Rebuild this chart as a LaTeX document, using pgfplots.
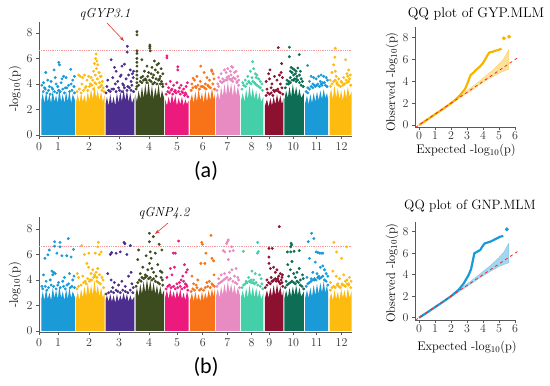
\documentclass[border=0pt]{standalone}
\usepackage{pgfplots}
\pgfplotsset{compat=1.18}
\usepackage{fontspec}
\newfontfamily\carlito{Carlito}
\usetikzlibrary{arrows.meta}
\definecolor{c1}{HTML}{1A9AD7}
\definecolor{c2}{HTML}{FDBB10}
\definecolor{c3}{HTML}{4B2E8E}
\definecolor{c4}{HTML}{3D4C1F}
\definecolor{c5}{HTML}{EC1A7D}
\definecolor{c6}{HTML}{F87318}
\definecolor{c7}{HTML}{E88BC2}
\definecolor{c8}{HTML}{45CFA8}
\definecolor{c9}{HTML}{8C1131}
\definecolor{c10}{HTML}{0D6E55}
\definecolor{qa}{HTML}{F6B500}
\definecolor{qb}{HTML}{1A9AD7}
\definecolor{arr}{HTML}{E8352E}
\definecolor{thrc}{HTML}{F59A9A}
\pgfplotsset{
  mh/.style={scale only axis, width=313pt, xmin=-2.5, xmax=373, ymin=-0.08,
    axis lines*=left, tick align=outside, major tick length=3pt,
    axis line style={draw=black!65, line width=0.6pt},
    tick style={draw=black!65, line width=0.6pt},
    xtick={-2.5,20.4,57.6,93.5,129.5,163,193.9,223.4,252.6,273.7,302.5,330.6,360.5},
    xticklabels={0,1,2,3,4,5,6,7,8,9,10,11,12},
    ytick={0,2,4,6,8},
    tick label style={font=\fontsize{12}{14}\selectfont, text=black!80}},
  qq/.style={scale only axis, width=100pt, xmin=-0.25, xmax=6,
    axis lines*=left, tick align=outside, major tick length=3pt,
    axis line style={draw=black!65, line width=0.6pt},
    tick style={draw=black!65, line width=0.6pt},
    xtick={0,1,2,3,4,5,6}, ytick={0,2,4,6,8}, clip=false,
    tick label style={font=\fontsize{12}{14}\selectfont, text=black!80},
    xticklabel style={yshift=2pt}},
  sc/.style={only marks, mark=*, mark size=1.25pt, color=#1, mark options={draw=none, fill=#1}},
  ar/.style={fill=#1, draw=none},
  thr/.style={color=thrc, line width=0.8pt, dash pattern=on 1pt off 0.8pt},
}
\begin{document}
\begin{tikzpicture}[x=1pt,y=1pt]
\path[use as bounding box] (0pt,0pt) rectangle (550pt,386pt);
% ---------------- Manhattan (a) ----------------
\begin{axis}[mh, at={(39pt,250pt)}, anchor=south west, height=114pt, ymax=8.86]
\addplot[thr] coordinates {(-2.5,6.6)(373,6.6)};
\addplot[ar=c1] coordinates {(0.3,0)(0.3,2.7)(2,3.3)(4,2.5)(6,3.4)(8,2.6)(10,3.2)(12,2.5)(14,3.5)(16,2.6)(18,3.1)(20,2.5)(22,3.6)(24,2.6)(26,3.2)(28,2.5)(30,3.4)(32,2.6)(34,3.5)(36,2.5)(38,3.2)(40.8,2.7)(40.8,0)};
\addplot[sc=c1] coordinates {(21.2,5.7)(22,5.5)(5.6,4.9)(35.6,5.15)(15.6,5.1)(27,4.6)(8,4.3)(1,3.9)(12,4.2)(18,4.0)(25,4.4)(30,4.5)(38,4.3)(33,3.9)(4,3.7)(10,3.8)(14,3.6)(20,3.8)(24,4.1)(29,3.7)(36,4.0)(39.5,3.8)(40,4.6)(3,4.1)(17,4.5)};
\addplot[sc=c1] coordinates {(2.5,3.4)(5,3.6)(7,3.3)(9,3.5)(11,3.2)(13,3.7)(16,3.4)(19,3.3)(21,3.5)(23,3.4)(26,3.6)(28,3.3)(31,3.7)(34,3.4)(37,3.5)(40,3.3)};
\addplot[ar=c2] coordinates {(42,0)(42,2.6)(44,3.2)(46,2.5)(48,3.3)(50,2.6)(52,3.1)(54,2.5)(56,3.4)(58,2.7)(60,3.6)(62,2.8)(64,3.9)(66,2.9)(68,3.5)(70,2.7)(72,3.4)(74,2.6)(76.1,3.1)(76.1,0)};
\addplot[sc=c2] coordinates {(66,6.35)(65.5,6.0)(67,5.8)(64,5.6)(68,5.5)(66.5,5.2)(63,5.0)(69.5,4.9)(65,4.7)(71,4.6)(60,4.5)(62,4.3)(72,4.6)(73.5,4.2)(45,4.7)(47,4.6)(50,4.5)(52,4.7)(55,4.3)(57,4.6)(49,4.0)(54,3.8)(59,4.0)(70,4.1)(72.5,3.9)(74.5,3.7)(67.5,4.4)(64.5,4.1)};
\addplot[sc=c2] coordinates {(43,3.4)(46,3.6)(48,3.3)(51,3.5)(53,3.7)(56,3.5)(58,3.8)(61,3.9)(63,3.6)(66,4.0)(69,3.7)(71,3.8)(73,3.5)(75.5,3.4)};
\addplot[ar=c3] coordinates {(77.3,0)(77.3,2.4)(79,3.0)(81,2.3)(83,3.2)(85,2.4)(87,3.0)(89,2.3)(91,3.3)(93,2.5)(95,3.4)(97,2.6)(99,3.6)(101,2.7)(103,3.5)(105,2.6)(107,3.3)(109,2.5)(112,3.0)(112,0)};
\addplot[sc=c3] coordinates {(103.5,6.95)(103.3,6.5)(84,5.9)(97,5.4)(100,5.55)(90,5.0)(88,5.3)(107,5.1)(109.5,4.8)(95,4.6)(80,4.3)(86,4.5)(92,4.2)(98,4.0)(102,4.4)(105,4.7)(108,4.2)(110.5,4.5)(111,5.0)(79,3.8)(85,3.6)(93,3.7)(99,3.9)(104,3.8)(109,3.9)(96,4.7)(89,4.0)};
\addplot[sc=c3] coordinates {(78,3.3)(81,3.5)(83,3.4)(87,3.6)(90,3.4)(94,3.5)(97,3.4)(100,3.7)(103,3.5)(106,3.7)(108,3.5)(111,3.4)};
\addplot[ar=c4] coordinates {(113.3,0)(113.3,3.2)(115,2.6)(117,3.5)(119,2.8)(121,3.8)(123,2.9)(125,4.0)(127,3.0)(129,4.2)(131,2.9)(133,3.9)(135,2.8)(137,3.7)(139,3.0)(141,4.0)(143,2.8)(145,3.5)(147.5,2.9)(147.5,0)};
\addplot[sc=c4] coordinates {(115,8.1)(115,7.85)(115,6.6)(115,6.4)(115,6.0)(115,5.7)(115,5.4)(115,5.0)(115,4.7)(115,4.4)(115,4.1)(115,3.8)(130.5,7.05)(130.5,6.93)(130.5,6.8)(131,6.6)(121,5.9)(136,5.8)(141,5.6)(127,5.4)(133,5.3)(139,5.5)(144,5.2)(146,4.8)(124,5.0)(129,4.9)(135,4.7)(143,4.6)(120,4.5)(126,4.3)(138,4.4)(144.5,4.2)(122,4.6)(132,4.8)(140,4.9)(142,4.4)(145.5,4.0)(134,4.5)(137,5.1)(128,4.6)};
\addplot[sc=c4] coordinates {(114,3.6)(117,3.9)(119,4.2)(121,4.1)(123,4.3)(125,4.4)(127,4.1)(130,4.3)(132,4.2)(134,4.0)(136,4.1)(139,4.0)(141,4.3)(143,4.0)(146,3.8)};
\addplot[ar=c5] coordinates {(148.7,0)(148.7,2.8)(151,2.3)(153,3.0)(155,2.4)(157,3.2)(159,2.5)(161,3.1)(163,2.3)(165,2.9)(167,2.4)(169,3.0)(171,2.3)(173,2.8)(175,2.4)(176.9,2.7)(176.9,0)};
\addplot[sc=c5] coordinates {(151,6.2)(151,6.05)(164,5.35)(164,5.1)(150,4.0)(153,3.7)(155,4.2)(157,3.6)(159,3.9)(163,4.1)(166,3.7)(168,3.9)(171,3.6)(174,3.8)(175.5,4.1)(161,3.5)(169,3.4)(173,3.3)};
\addplot[sc=c5] coordinates {(150,3.2)(152,3.4)(154,3.3)(156,3.5)(158,3.2)(160,3.4)(162,3.3)(165,3.4)(167,3.2)(170,3.3)(172,3.1)(174,3.2)(176,3.0)};
\addplot[ar=c6] coordinates {(178.6,0)(178.6,2.6)(181,3.2)(183,2.5)(185,3.4)(187,2.6)(189,3.6)(191,2.7)(193,3.3)(195,2.5)(197,3.5)(199,2.6)(201,3.4)(203,2.7)(205,3.7)(207,2.8)(208.6,3.2)(208.6,0)};
\addplot[sc=c6] coordinates {(191.5,5.4)(204.6,5.1)(195.5,4.9)(182.4,4.45)(205,5.0)(206.5,4.8)(184,4.3)(187,4.6)(191,4.2)(197,4.0)(199,4.5)(202,4.3)(207.5,4.4)(181,4.0)(194,3.8)(200,3.9)(186,3.7)};
\addplot[sc=c6] coordinates {(180,3.5)(182,3.7)(185,3.8)(188,3.9)(190,3.6)(192,3.8)(196,3.7)(198,3.6)(201,3.8)(203,3.7)(206,4.0)(208,3.6)};
\addplot[ar=c7] coordinates {(209.8,0)(209.8,2.8)(212,3.4)(214,2.7)(216,3.8)(218,3.0)(220,4.0)(222,3.1)(224,4.2)(226,3.2)(228,4.1)(230,3.0)(232,4.0)(234,3.1)(236,3.8)(238.6,3.0)(238.6,0)};
\addplot[sc=c7] coordinates {(228.6,5.36)(220,5.1)(224,5.2)(230,5.3)(234,5.0)(216,4.8)(222,4.9)(228,4.7)(232,4.9)(236,4.6)(213,4.5)(218,4.4)(225,4.6)(231,4.5)(237,4.3)(215,4.2)(223,4.3)(229,4.4)(235,4.2)(212,4.0)(227,5.0)};
\addplot[sc=c7] coordinates {(211,3.5)(213,3.8)(217,4.1)(219,4.2)(221,4.3)(223,4.5)(226,4.4)(228,4.3)(230,4.2)(233,4.4)(235,4.1)(237,3.9)};
\addplot[ar=c8] coordinates {(239.8,0)(239.8,2.7)(242,3.3)(244,2.6)(246,3.6)(248,2.8)(250,3.9)(252,2.9)(254,3.7)(256,2.8)(258,3.5)(260,2.7)(262,3.3)(264,2.6)(266.8,3.0)(266.8,0)};
\addplot[sc=c8] coordinates {(253.8,5.75)(255,5.2)(251,5.0)(257,4.8)(248,4.6)(259,4.7)(245,4.3)(253,4.5)(261,4.4)(242,4.1)(263,4.2)(265,4.0)(249,4.2)(256,4.1)(258,4.5)};
\addplot[sc=c8] coordinates {(241,3.6)(243,3.9)(245,3.8)(247,4.0)(250,4.1)(252,4.0)(254,4.2)(257,4.0)(259,3.9)(261,3.8)(263,3.7)(265.5,3.5)};
\addplot[ar=c9] coordinates {(268.6,0)(268.6,2.3)(271,2.8)(273,2.2)(275,2.9)(277,2.3)(279,3.0)(281,2.4)(283,3.2)(285,2.5)(287,3.1)(289,2.4)(290.8,2.9)(290.8,0)};
\addplot[sc=c9] coordinates {(284.6,6.85)(274.6,5.1)(286,4.7)(288,4.9)(270,4.2)(274,4.4)(277,4.0)(280,4.6)(283,4.3)(287,4.0)(289.5,4.5)(271,3.6)(276,3.7)(279,3.5)(284,3.6)(289,3.7)(273,4.8)(288.6,5.6)};
\addplot[sc=c9] coordinates {(270,3.1)(272,3.3)(274,3.2)(276,3.3)(278,3.1)(280,3.4)(282,3.5)(285,3.4)(287,3.3)(290,3.2)};
\addplot[ar=c10] coordinates {(292,0)(292,2.8)(294,3.5)(296,2.9)(298,3.8)(300,3.0)(302,4.0)(304,3.1)(306,3.8)(308,3.0)(310,3.6)(312,2.9)(315.3,3.3)(315.3,0)};
\addplot[sc=c10] coordinates {(297.8,6.88)(297.8,6.14)(309.7,6.3)(300,5.3)(302,5.2)(304,5.1)(306,5.0)(308,5.25)(301,4.9)(303,4.7)(305,4.8)(307,4.6)(299,4.5)(310,4.7)(312,4.4)(295,4.3)(297,4.0)(313.5,4.2)(303,4.3)(306,4.4)(299,5.0)(311,5.0)};
\addplot[sc=c10] coordinates {(293,3.7)(295,4.0)(297,4.2)(299,4.1)(301,4.3)(304,4.4)(306,4.2)(308,4.3)(310,4.1)(312,3.9)(314.5,3.8)};
\addplot[ar=c1] coordinates {(316.8,0)(316.8,2.5)(319,3.1)(321,2.4)(323,3.2)(325,2.5)(327,3.3)(329,2.6)(331,3.4)(333,2.7)(335,3.5)(337,2.8)(339,3.6)(341,2.9)(343,3.3)(344.5,2.7)(344.5,0)};
\addplot[sc=c1] coordinates {(319.8,5.45)(324,4.6)(327,4.5)(330,4.4)(333,4.6)(336,4.7)(339,4.6)(342,4.5)(322,4.2)(326,4.0)(335,4.2)(340,4.1)(343.5,4.3)(329,3.8)(332,4.0)(337,3.9)(320,3.7)};
\addplot[sc=c1] coordinates {(318,3.4)(320,3.3)(322,3.6)(324,3.8)(326,3.7)(328,3.9)(331,3.9)(334,3.8)(336,4.0)(338,4.1)(341,3.9)(343,3.8)};
\addplot[ar=c2] coordinates {(346.1,0)(346.1,3.0)(348,3.6)(350,2.8)(352,3.9)(354,2.9)(356,3.7)(358,2.8)(360,3.5)(362,2.7)(364,3.6)(366,2.9)(368,3.8)(370,3.0)(372.4,3.4)(372.4,0)};
\addplot[sc=c2] coordinates {(352.9,6.8)(352.5,6.1)(365.3,5.9)(351,5.5)(369,5.1)(367,4.8)(349,4.9)(354,4.6)(357,4.4)(360,4.2)(363,4.5)(371,4.7)(347,4.3)(355,4.0)(361,4.1)(366,4.3)(370,4.4)(353,5.0)(368,4.6)};
\addplot[sc=c2] coordinates {(347,3.8)(349,4.0)(351,4.2)(353,4.3)(355,4.1)(357,3.9)(359,3.8)(362,3.9)(364,4.0)(367,4.1)(369,4.2)(371.5,3.9)};
\end{axis}
% ---------------- Manhattan (b) ----------------
\begin{axis}[mh, at={(39pt,54pt)}, anchor=south west, height=115pt, ymax=8.94]
\addplot[thr] coordinates {(-2.5,6.6)(373,6.6)};
\addplot[ar=c1] coordinates {(0.3,0)(0.3,2.5)(2,3.1)(4,2.4)(6,3.3)(8,2.5)(10,3.0)(12,2.4)(14,3.4)(16,2.6)(18,3.2)(20,2.5)(22,3.5)(24,2.6)(26,3.1)(28,2.4)(30,3.3)(32,2.5)(34,3.4)(36,2.6)(38,3.1)(40.8,2.6)(40.8,0)};
\addplot[sc=c1] coordinates {(32.6,7.25)(16.2,7.0)(16.2,6.65)(22.6,6.95)(22.6,6.6)(9.8,6.35)(8.2,5.97)(4.6,5.7)(30.8,5.9)(38.8,6.4)(36,5.8)(19,6.1)(25,5.9)(13,4.7)(15,4.6)(17,4.5)(14,4.4)(3,4.4)(28,4.2)(34,4.5)(39.5,4.3)(6,3.9)(11,4.0)(21,3.8)(26,3.9)(33,3.7)(38,4.0)(1,3.5)};
\addplot[sc=c1] coordinates {(2,3.3)(5,3.5)(7,3.2)(9,3.4)(12,3.6)(15,3.5)(18,3.3)(20,3.6)(23,3.4)(27,3.5)(29,3.3)(31,3.6)(35,3.4)(37,3.5)(40,3.4)};
\addplot[ar=c2] coordinates {(42,0)(42,2.5)(44,3.1)(46,2.4)(48,3.3)(50,2.6)(52,3.5)(54,2.7)(56,3.8)(58,2.8)(60,3.6)(62,2.8)(64,4.0)(66,2.9)(68,3.6)(70,2.7)(72,3.4)(74,2.6)(76.1,3.0)(76.1,0)};
\addplot[sc=c2] coordinates {(48.8,6.7)(68.7,6.95)(68,6.6)(57.4,6.1)(52,6.0)(65,6.1)(70,6.0)(72,6.2)(55,5.3)(57,5.0)(66,4.6)(43.5,4.5)(45,4.2)(50,4.3)(60,4.5)(62,4.8)(64,4.4)(68,4.9)(70,4.4)(73,4.2)(74.5,4.0)(53,3.9)(59,4.0)(67,4.2)};
\addplot[sc=c2] coordinates {(43,3.3)(45,3.5)(48,3.6)(51,3.8)(54,3.7)(56,4.1)(58,3.9)(61,4.0)(63,4.2)(65,4.3)(67,3.9)(69,3.8)(71,3.7)(75,3.4)};
\addplot[ar=c3] coordinates {(77.3,0)(77.3,2.4)(79,2.8)(81,2.3)(83,2.9)(85,2.3)(87,2.8)(89,2.2)(91,2.9)(93,2.3)(95,2.8)(97,2.4)(99,3.0)(101,2.4)(103,2.9)(105,2.3)(107,2.8)(109,2.4)(112,2.7)(112,0)};
\addplot[sc=c3] coordinates {(99.5,6.95)(100.5,6.85)(84.7,6.15)(83,6.0)(90,6.1)(95,6.2)(107,6.7)(103,6.0)(80,4.5)(84,4.0)(88,3.8)(93,3.6)(97,3.9)(101,3.5)(105,4.3)(109,3.7)(110.5,3.4)(86,3.4)(108,4.6)};
\addplot[sc=c3] coordinates {(78,2.9)(81,3.0)(84,3.1)(87,3.0)(90,3.2)(92,3.1)(95,3.0)(98,3.2)(101,3.1)(104,3.0)(107,3.2)(110,3.0)};
\addplot[ar=c4] coordinates {(113.3,0)(113.3,2.8)(115,3.4)(117,2.7)(119,3.7)(121,2.9)(123,3.9)(125,3.0)(127,4.1)(129,3.1)(131,4.0)(133,3.0)(135,3.8)(137,2.9)(139,3.6)(141,2.8)(143,3.5)(145,2.8)(147.5,3.2)(147.5,0)};
\addplot[sc=c4] coordinates {(129.9,7.66)(134.7,7.4)(129.9,7.0)(141.7,6.8)(117,6.35)(131,6.2)(145,6.35)(132,5.7)(116,5.6)(126,5.9)(137,6.1)(140,5.2)(122,5.0)(128,4.8)(133,4.9)(143,4.7)(119,4.5)(125,4.4)(135,4.6)(138,4.3)(145,4.6)(121,4.2)(144,4.2)(145.5,4.0)(130,5.3)};
\addplot[sc=c4] coordinates {(114,3.5)(116,3.8)(118,4.0)(120,3.9)(123,4.1)(125,4.2)(127,4.3)(129,4.1)(131,4.2)(133,4.0)(135,4.1)(137,3.9)(140,3.8)(142,3.7)(146,3.6)};
\addplot[ar=c5] coordinates {(148.7,0)(148.7,2.6)(151,3.2)(153,2.5)(155,3.3)(157,2.6)(159,3.1)(161,2.5)(163,3.2)(165,2.6)(167,3.3)(169,2.5)(171,3.0)(173,2.4)(175,3.1)(176.9,2.6)(176.9,0)};
\addplot[sc=c5] coordinates {(165,7.05)(158.6,6.1)(161,6.1)(172,5.2)(155,4.9)(160,5.0)(157,4.4)(168,4.0)(171,3.9)(173,3.7)(174.5,3.6)(175.5,4.8)(163,3.7)(170,4.3)(174,4.6)(151,4.2)(166,3.8)};
\addplot[sc=c5] coordinates {(150,3.3)(152,3.5)(154,3.6)(156,3.4)(159,3.5)(161,3.3)(164,3.4)(167,3.5)(169,3.3)(172,3.4)(175,3.5)(176,3.2)};
\addplot[ar=c6] coordinates {(178.6,0)(178.6,2.4)(181,3.0)(183,2.3)(185,3.1)(187,2.4)(189,2.9)(191,2.3)(193,3.1)(195,2.4)(197,3.0)(199,2.5)(201,3.2)(203,2.6)(205,3.3)(207,2.7)(208.6,3.4)(208.6,0)};
\addplot[sc=c6] coordinates {(192.7,6.95)(193.5,6.8)(203.8,7.5)(197.8,6.1)(191.7,5.3)(196.5,5.3)(205,5.7)(207,5.5)(188,4.0)(199,3.8)(202,3.9)(205,3.7)(183,3.7)(186,3.6)(207.5,4.4)(181,4.3)};
\addplot[sc=c6] coordinates {(180,3.1)(182,3.3)(184,3.2)(187,3.4)(190,3.2)(192,3.3)(195,3.2)(197,3.4)(200,3.5)(203,3.4)(206,3.6)(208,3.5)};
\addplot[ar=c7] coordinates {(209.8,0)(209.8,2.7)(212,3.3)(214,2.6)(216,3.5)(218,2.8)(220,3.7)(222,2.9)(224,3.9)(226,3.0)(228,3.7)(230,2.9)(232,3.6)(234,2.8)(236,3.4)(238.6,2.8)(238.6,0)};
\addplot[sc=c7] coordinates {(224.6,7.14)(223.5,7.0)(222.5,6.86)(228.6,6.6)(218.5,6.3)(220.5,6.2)(226.5,6.25)(230.5,6.3)(224.6,5.6)(216,4.4)(220,4.5)(226,4.6)(232,4.3)(236,4.2)(237,4.0)(213,4.1)(229,4.8)(234,4.9)};
\addplot[sc=c7] coordinates {(211,3.5)(213,3.7)(215,3.8)(217,3.9)(219,4.0)(221,4.1)(223,4.2)(225,4.0)(227,4.1)(230,3.9)(233,3.8)(235,3.7)(238,3.4)};
\addplot[ar=c8] coordinates {(239.8,0)(239.8,2.6)(242,3.2)(244,2.5)(246,3.4)(248,2.6)(250,3.6)(252,2.7)(254,3.5)(256,2.6)(258,3.4)(260,2.6)(262,3.2)(264,2.5)(266.8,3.0)(266.8,0)};
\addplot[sc=c8] coordinates {(259.8,6.95)(242.6,6.25)(260.6,6.23)(259.5,6.1)(253,4.7)(257,4.5)(262,4.4)(249,4.2)(255,4.0)(264,4.1)(246,3.9)(252,3.8)(265,3.7)};
\addplot[sc=c8] coordinates {(241,3.4)(243,3.6)(245,3.7)(247,3.8)(250,3.9)(252,4.0)(254,3.8)(256,3.7)(258,3.8)(260,3.6)(263,3.5)(266,3.3)};
\addplot[ar=c9] coordinates {(268.6,0)(268.6,2.6)(271,3.2)(273,2.6)(275,3.4)(277,2.7)(279,3.6)(281,2.8)(283,3.7)(285,2.9)(287,3.5)(289,2.7)(290.8,3.2)(290.8,0)};
\addplot[sc=c9] coordinates {(285.8,8.18)(273.4,6.48)(277.4,6.48)(273.4,5.8)(273.4,5.3)(275,4.9)(279,5.0)(281,4.6)(283,4.8)(285,4.3)(287,4.5)(289,4.2)(289.5,4.4)(271,4.0)(276,4.2)(278,3.9)(282,3.9)(284,4.1)(286,3.8)(288,4.0)(289,3.8)};
\addplot[sc=c9] coordinates {(269,3.4)(271,3.6)(273,3.8)(275,3.7)(277,3.9)(279,4.0)(281,4.1)(283,4.0)(285,3.9)(287,3.7)(290,3.5)};
\addplot[ar=c10] coordinates {(292,0)(292,2.6)(294,3.2)(296,2.6)(298,3.4)(300,2.7)(302,3.5)(304,2.8)(306,3.6)(308,2.8)(310,3.4)(312,2.7)(315.3,3.1)(315.3,0)};
\addplot[sc=c10] coordinates {(300,6.88)(300.6,6.75)(299.4,6.6)(295.5,6.2)(299.5,6.2)(303.5,6.25)(309.7,6.3)(296,5.2)(301,5.45)(299,4.8)(309.7,4.9)(313.7,4.4)(297,4.3)(303,4.5)(305,4.2)(307,4.6)(311,4.0)(294,3.9)(314.5,4.1)};
\addplot[sc=c10] coordinates {(293,3.4)(295,3.6)(297,3.7)(299,3.8)(301,3.9)(303,3.8)(305,3.7)(307,3.9)(309,3.8)(311,3.6)(313,3.5)(315,3.3)};
\addplot[ar=c1] coordinates {(316.8,0)(316.8,2.6)(319,3.2)(321,2.6)(323,3.4)(325,2.7)(327,3.6)(329,2.8)(331,3.7)(333,2.9)(335,3.8)(337,3.0)(339,3.9)(341,3.0)(343,3.6)(344.5,2.9)(344.5,0)};
\addplot[sc=c1] coordinates {(324.5,7.66)(327.3,7.25)(320.5,7.0)(330,6.2)(332,6.15)(334,6.1)(336,6.1)(338,6.1)(322,5.7)(329,5.4)(335,5.0)(338,5.1)(326,4.6)(331,4.5)(340,4.8)(342,4.5)(319,4.2)(324,4.1)(333,4.3)(344,4.3)(328,4.0)};
\addplot[sc=c1] coordinates {(318,3.5)(320,3.7)(322,3.8)(324,3.9)(326,4.0)(328,4.1)(330,4.0)(332,4.2)(334,4.1)(336,4.2)(338,4.3)(340,4.0)(342,3.9)(344,3.6)};
\addplot[ar=c2] coordinates {(346.1,0)(346.1,2.5)(348,3.0)(350,2.4)(352,3.2)(354,2.5)(356,3.1)(358,2.4)(360,3.3)(362,2.6)(364,3.2)(366,2.5)(368,3.4)(370,2.6)(372.4,3.1)(372.4,0)};
\addplot[sc=c2] coordinates {(351.3,6.95)(366.5,6.6)(354.5,6.2)(360.5,5.7)(350,4.7)(354,4.3)(358,4.1)(363,4.4)(367,4.0)(370,4.2)(347,3.8)(356,3.7)(361,3.6)(365,3.9)(369,3.7)(372,3.9)};
\addplot[sc=c2] coordinates {(347,3.2)(349,3.4)(351,3.5)(353,3.4)(355,3.6)(357,3.5)(359,3.4)(361,3.7)(363,3.6)(365,3.5)(367,3.7)(369,3.6)(371.5,3.4)};
\end{axis}
% ---------------- QQ (a) ----------------
\begin{axis}[qq, at={(415pt,259pt)}, anchor=south west, height=100pt, ymin=-0.18, ymax=8.99]
\addplot[fill=qa!40, draw=qa!60, line width=0.3pt] coordinates {(2,2.05)(2.5,2.6)(3,3.15)(3.5,3.7)(4,4.3)(4.5,4.9)(5,5.6)(5.3,6.1)(5.6,6.9)(5.6,5.1)(5.3,4.95)(5,4.75)(4.5,4.35)(4,3.9)(3.5,3.4)(3,2.9)(2.5,2.42)(2,1.95)};
\addplot[color=qa, line width=2.2pt, line join=round] coordinates {(0,0)(0.5,0.48)(1,0.98)(1.5,1.48)(2,2.0)(2.3,2.35)(2.6,2.8)(2.88,3.3)(3.05,3.9)(3.23,4.6)(3.4,4.8)(3.6,5.1)(3.8,5.35)(3.98,5.65)(4.15,6.05)(4.3,6.45)(4.4,6.65)(4.6,6.72)(4.75,6.8)(4.95,6.88)(5.16,7.0)};
\addplot[only marks, mark=*, mark size=1.8pt, color=qa] coordinates {(5.31,7.95)(5.63,8.1)};
\addplot[dashed, color=red!85, line width=0.8pt] coordinates {(-0.22,-0.22)(6.15,6.15)};
\end{axis}
% ---------------- QQ (b) ----------------
\begin{axis}[qq, at={(415pt,66pt)}, anchor=south west, height=98pt, ymin=-0.21, ymax=8.9]
\addplot[fill=qb!40, draw=qb!60, line width=0.3pt] coordinates {(2,2.05)(2.5,2.6)(3,3.15)(3.5,3.7)(4,4.3)(4.5,4.9)(5,5.6)(5.3,6.1)(5.6,6.9)(5.6,5.1)(5.3,4.95)(5,4.75)(4.5,4.35)(4,3.9)(3.5,3.4)(3,2.9)(2.5,2.42)(2,1.95)};
\addplot[color=qb, line width=2.2pt, line join=round] coordinates {(0,0)(0.5,0.48)(1,0.98)(1.5,1.48)(2,2.0)(2.48,2.6)(2.8,3.2)(3.1,3.97)(3.25,4.5)(3.35,5.2)(3.46,5.99)(3.65,6.15)(3.83,6.3)(3.95,6.6)(4.1,6.9)(4.3,7.0)(4.5,7.1)(4.7,7.25)(4.9,7.4)(5.07,7.53)(5.27,7.6)};
\addplot[only marks, mark=*, mark size=1.8pt, color=qb] coordinates {(5.49,8.22)};
\addplot[dashed, color=red!85, line width=0.8pt] coordinates {(-0.22,-0.22)(6.15,6.15)};
\end{axis}
% ---------------- texts ----------------
\node[font=\fontsize{12.5}{15}\selectfont, rotate=90] at (15pt,297pt) {-log\textsubscript{10}(p)};
\node[font=\fontsize{12.5}{15}\selectfont, rotate=90] at (15pt,101pt) {-log\textsubscript{10}(p)};
\node[font=\fontsize{13}{15}\selectfont\itshape] at (105pt,372pt) {qGYP3.1};
\draw[arr, line width=0.6pt, -{Stealth[length=5pt,width=3.5pt]}] (107pt,363pt) -- (124pt,345pt);
\node[font=\fontsize{13}{15}\selectfont\itshape] at (164pt,173pt) {qGNP4.2};
\draw[arr, line width=0.6pt, -{Stealth[length=5pt,width=3.5pt]}] (168pt,163pt) -- (155pt,152pt);
\node[font=\carlito\fontsize{22}{26}\selectfont] at (206pt,215pt) {(a)};
\node[font=\carlito\fontsize{22}{26}\selectfont] at (206pt,19pt) {(b)};
\node[font=\fontsize{14}{16}\selectfont] at (476pt,372pt) {QQ plot of GYP.MLM};
\node[font=\fontsize{13.5}{16}\selectfont] at (470pt,180pt) {QQ plot of GNP.MLM};
\node[font=\fontsize{12.5}{15}\selectfont] at (466pt,235.5pt) {Expected -log\textsubscript{10}(p)};
\node[font=\fontsize{12.5}{15}\selectfont] at (467pt,38.5pt) {Expected -log\textsubscript{10}(p)};
\node[font=\fontsize{12.5}{15}\selectfont, rotate=90] at (392pt,304pt) {Observed -log\textsubscript{10}(p)};
\node[font=\fontsize{12.5}{15}\selectfont, rotate=90] at (392pt,113pt) {Observed -log\textsubscript{10}(p)};
\end{tikzpicture}
\end{document}
